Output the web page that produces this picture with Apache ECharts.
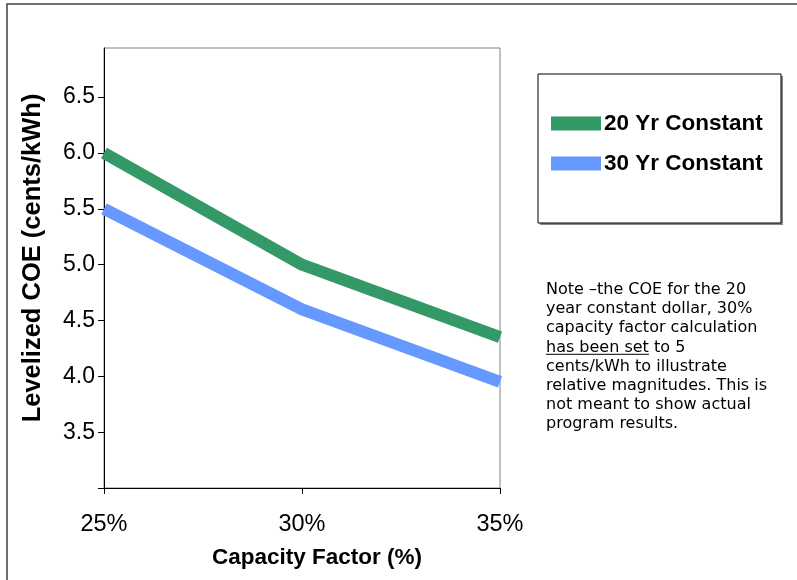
<!DOCTYPE html>
<html>
<head>
<meta charset="utf-8">
<script src="https://cdn.jsdelivr.net/npm/echarts@6/dist/echarts.min.js"></script>
<style>
  html, body { margin: 0; padding: 0; background: #fff; }
  #chart { width: 797px; height: 580px; }
</style>
</head>
<body>
<div id="chart"></div>
<script>
// ---- data ----
const categories = ['25%', '30%', '35%'];
const seriesNames = ['20 Yr Constant', '30 Yr Constant'];
const yr20Constant = [6.0, 5.0, 4.35];
const yr30Constant = [5.5, 4.6, 3.95];
const yTickValues = [3.0, 3.5, 4.0, 4.5, 5.0, 5.5, 6.0, 6.5];
const yLabelValues = [3.5, 4.0, 4.5, 5.0, 5.5, 6.0, 6.5];
const xAxisTitle = 'Capacity Factor (%)';
const yAxisTitle = 'Levelized COE (cents/kWh)';
const noteLines = [
  'Note \u2013the COE for the 20',
  'year constant dollar, 30%',
  'capacity factor calculation',
  'has been set to 5',
  'cents/kWh to illustrate',
  'relative magnitudes. This is',
  'not meant to show actual',
  'program results.'
];
const underlinedText = 'has been set';

const chart = echarts.init(document.getElementById('chart'), null, { renderer: 'canvas' });

const noteFont = '16px "DejaVu Sans", Verdana, sans-serif';
function measure(t, font) {
  const c = document.createElement('canvas').getContext('2d');
  c.font = font;
  return c.measureText(t).width;
}
const noteX = 546, noteTop = 280.5, noteLH = 19.1;
const ulWidth = measure(underlinedText, noteFont);
const ulY = noteTop + noteLH * 3 + 16.5;

const option = {
  animation: false,
  backgroundColor: '#ffffff',
  textStyle: { fontFamily: '"Liberation Sans", Arial, sans-serif' },
  grid: {
    left: 104, top: 48, right: 297, bottom: 92,
    show: true, borderColor: '#808080', borderWidth: 1, backgroundColor: '#ffffff'
  },
  legend: {
    show: true,
    data: seriesNames,
    orient: 'vertical',
    left: 546, top: 107,
    icon: 'rect',
    itemWidth: 50, itemHeight: 14,
    itemGap: 17,
    selectedMode: false,
    textStyle: { fontSize: 22.5, fontWeight: 'bold', color: '#000', fontFamily: '"Liberation Sans", Arial, sans-serif', padding: [0, 0, 0, -2] }
  },
  xAxis: {
    type: 'category',
    data: categories,
    boundaryGap: false,
    axisLine: { show: true, lineStyle: { color: '#000', width: 1 } },
    axisTick: { show: true, length: 6, alignWithLabel: true, lineStyle: { color: '#000' } },
    axisLabel: { fontSize: 23.5, color: '#000', margin: 25 },
    splitLine: { show: false },
    name: xAxisTitle,
    nameLocation: 'middle',
    nameGap: 58,
    nameTextStyle: { fontSize: 22.5, fontWeight: 'bold', color: '#000', padding: [0, 0, 0, 30] }
  },
  yAxis: {
    type: 'value',
    min: 3.0, max: 6.94, interval: 0.5,
    axisLine: { show: true, lineStyle: { color: '#000', width: 1 } },
    axisTick: { show: true, length: 6, lineStyle: { color: '#000' }, customValues: yTickValues },
    axisLabel: {
      fontSize: 23, color: '#000', margin: 9,
      customValues: yLabelValues,
      formatter: v => v.toFixed(1)
    },
    splitLine: { show: false },
    name: yAxisTitle,
    nameLocation: 'middle',
    nameGap: 58,
    nameRotate: 90,
    nameTextStyle: { fontSize: 25.5, fontWeight: 'bold', color: '#000', padding: [0, 0, 0, 20] }
  },
  series: [
    {
      name: seriesNames[0], type: 'line', data: yr20Constant,
      showSymbol: false, symbol: 'none', clip: false,
      color: '#339966',
      lineStyle: { color: '#339966', width: 12, cap: 'butt', join: 'round' },
      z: 3
    },
    {
      name: seriesNames[1], type: 'line', data: yr30Constant,
      showSymbol: false, symbol: 'none', clip: false,
      color: '#6699ff',
      lineStyle: { color: '#6699ff', width: 12, cap: 'butt', join: 'round' },
      z: 2
    }
  ],
  graphic: [
    { type: 'rect', z: -10, shape: { x: 7, y: 4, width: 820, height: 620 },
      style: { fill: 'none', stroke: '#404040', lineWidth: 1.5 } },
    { type: 'rect', z: 0, shape: { x: 540, y: 76, width: 243, height: 149 },
      style: { fill: '#888888', stroke: null } },
    { type: 'rect', z: 0, shape: { x: 538, y: 74, width: 243, height: 149 },
      style: { fill: '#ffffff', stroke: '#000000', lineWidth: 1 } },
    { type: 'text', z: 10, left: noteX, top: noteTop,
      style: { text: noteLines.join('\n'), font: noteFont, fill: '#000', lineHeight: noteLH } },
    { type: 'line', z: 10, shape: { x1: noteX, y1: ulY, x2: noteX + ulWidth, y2: ulY },
      style: { stroke: '#000', lineWidth: 1 } }
  ]
};
chart.setOption(option);
</script>
</body>
</html>
